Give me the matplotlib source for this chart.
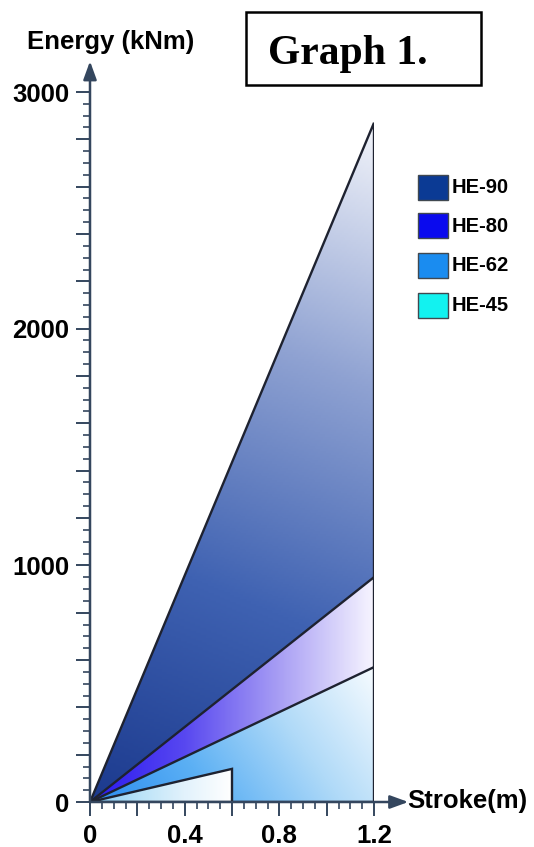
import numpy as np
import matplotlib
matplotlib.use("Agg")
import matplotlib.pyplot as plt
from matplotlib.patches import Polygon, Rectangle
from matplotlib.colors import LinearSegmentedColormap
from matplotlib.ticker import MultipleLocator, FuncFormatter

# ---- data ----
names = ["HE-90", "HE-80", "HE-62", "HE-45"]
max_stroke = [1.2, 1.2, 1.2, 0.6]          # m
max_energy = [2870, 950, 570, 140]         # kNm
legend_colors = ["#0b3a94", "#0a0aee", "#1a8cf0", "#12f2f0"]
x_ticks = [0, 0.4, 0.8, 1.2]
y_ticks = [0, 1000, 2000, 3000]

# gradient styles per series: colour stops and direction weights (x, y)
grad_stops = [
    ["#1c3a8e", "#3f62b2", "#8fa2d2", "#f2f4fa"],
    ["#2a18f0", "#5848f0", "#a89ef4", "#f6f4ff"],
    ["#2a8cf0", "#5cb0f4", "#b0daf8", "#f6fbff"],
    ["#80c8f4", "#b8e2f8", "#e2f2fc", "#ffffff"],
]
grad_weights = [(0.15, 0.85), (1.0, 0.0), (0.75, 0.25), (1.0, 0.0)]

W, H = 534, 847
fig = plt.figure(figsize=(W / 100, H / 100), dpi=100)
plt.rcParams["font.family"] = ["Liberation Sans", "DejaVu Sans"]

x0, x1 = 90, 374
y0, y3000 = 802, 92
ax = fig.add_axes([x0 / W, 1 - y0 / H, (x1 - x0) / W, (y0 - y3000) / H])
ax.set_xlim(0, 1.2)
ax.set_ylim(0, 3000)
for s in ax.spines.values():
    s.set_visible(False)
ax.patch.set_alpha(0)

# ---- gradient triangles ----
for i, (xm, em) in enumerate(zip(max_stroke, max_energy)):
    cmap = LinearSegmentedColormap.from_list(f"g{i}", grad_stops[i])
    gx = np.linspace(0, 1, 300)
    gy = np.linspace(0, 1, 300)
    GX, GY = np.meshgrid(gx, gy)
    wx, wy = grad_weights[i]
    T = np.clip(wx * GX + wy * GY, 0, 1)
    poly = Polygon([(0, 0), (xm, em), (xm, 0)], closed=True,
                   facecolor="none", edgecolor="#1e2230", lw=1.7, zorder=3 + i * 2 + 1,
                   joinstyle="miter")
    im = ax.imshow(T, cmap=cmap, vmin=0, vmax=1, origin="lower",
                   extent=[0, xm, 0, em], aspect="auto", zorder=3 + i * 2,
                   interpolation="bilinear")
    ax.add_patch(poly)
    im.set_clip_path(poly)

ax.set_xlim(0, 1.2)
ax.set_ylim(0, 3000)

# ---- axes lines with arrows ----
axis_col = "#34465e"
ax.annotate("", xy=(0, 3130), xytext=(0, 0),
            arrowprops=dict(arrowstyle="-|>,head_length=1.1,head_width=0.4",
                            color=axis_col, lw=1.8, shrinkA=0, shrinkB=0),
            annotation_clip=False, zorder=20)
ax.annotate("", xy=(1.345, 0), xytext=(0, 0),
            arrowprops=dict(arrowstyle="-|>,head_length=1.1,head_width=0.4",
                            color=axis_col, lw=1.8, shrinkA=0, shrinkB=0),
            annotation_clip=False, zorder=20)

# ---- ticks ----
ax.yaxis.set_major_locator(MultipleLocator(200))
ax.yaxis.set_minor_locator(MultipleLocator(50))
ax.xaxis.set_major_locator(MultipleLocator(0.2))
ax.xaxis.set_minor_locator(MultipleLocator(0.05))
ax.yaxis.set_major_formatter(FuncFormatter(
    lambda v, p: f"{int(round(v))}" if int(round(v)) in y_ticks else ""))
ax.xaxis.set_major_formatter(FuncFormatter(
    lambda v, p: (("0" if abs(v) < 1e-9 else f"{v:.1f}") if any(abs(v - t) < 1e-6 for t in x_ticks) else "")))
ax.tick_params(axis="both", which="major", direction="out", length=10, width=1.4,
               color=axis_col, labelsize=18.5, pad=5)
ax.tick_params(axis="both", which="minor", direction="out", length=5, width=1.2,
               color=axis_col)
ax.tick_params(axis="x", which="major", pad=6)
for lab in ax.get_xticklabels() + ax.get_yticklabels():
    lab.set_fontweight("bold")

# ---- axis titles ----
fig.text(27 / W, 1 - 42 / H, "Energy (kNm)", fontsize=18.5, fontweight="bold",
         ha="left", va="center")
fig.text(407 / W, 1 - 801 / H, "Stroke(m)", fontsize=18.5, fontweight="bold",
         ha="left", va="center")

# ---- title box ----
fig.add_artist(Rectangle((246 / W, 1 - 85 / H), (481 - 246) / W, (85 - 12) / H,
                         transform=fig.transFigure, facecolor="white",
                         edgecolor="black", lw=1.8))
fig.text(268 / W, 1 - 64 / H, "Graph 1.", fontsize=30, fontweight="bold",
         family=["Liberation Serif", "DejaVu Serif"], ha="left", va="baseline")

# ---- legend ----
row_y = [187.5, 226, 265.5, 305.5]
for name, col, yy in zip(names, legend_colors, row_y):
    fig.add_artist(Rectangle((418 / W, 1 - (yy + 12.5) / H), 30 / W, 25 / H,
                             transform=fig.transFigure, facecolor=col,
                             edgecolor="#404850", lw=1.0))
    fig.text(452 / W, 1 - yy / H, name, fontsize=14.5, fontweight="bold",
             ha="left", va="center")

fig.savefig("out.png", dpi=100)
